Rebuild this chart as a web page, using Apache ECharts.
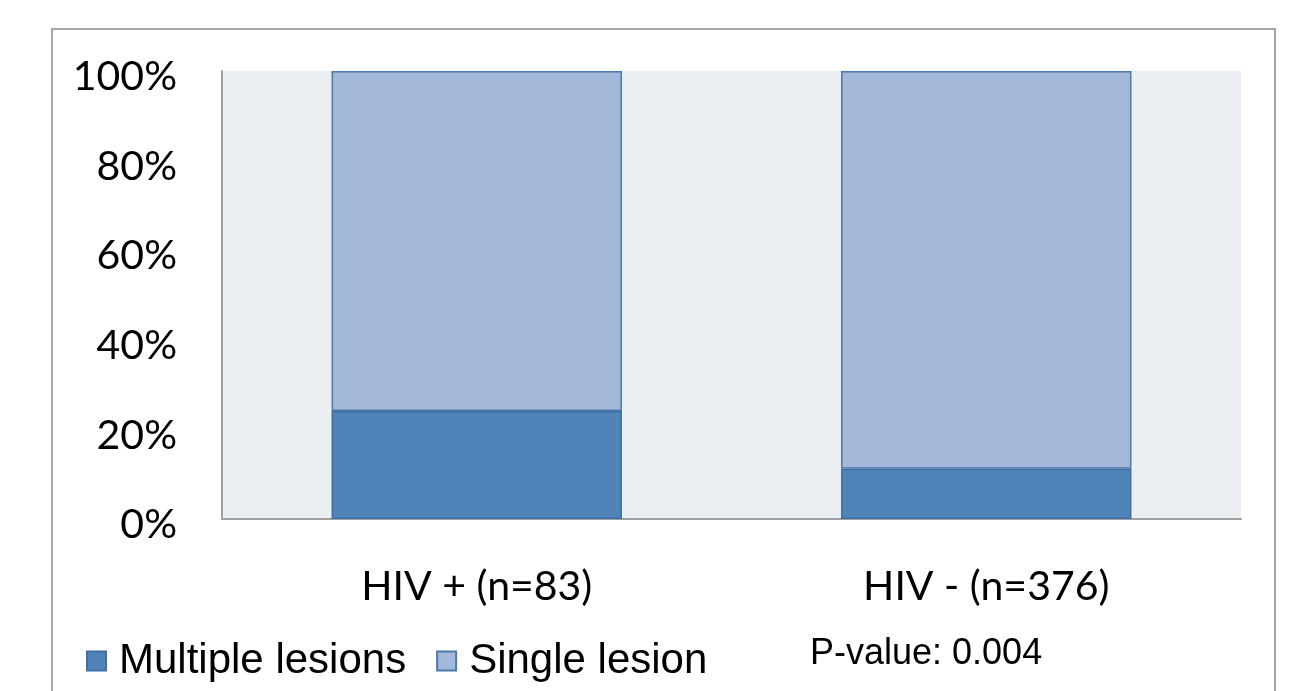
<!DOCTYPE html>
<html>
<head>
<meta charset="utf-8">
<script src="https://cdn.jsdelivr.net/npm/echarts@6/dist/echarts.min.js"></script>
<style>
  html, body { margin: 0; padding: 0; background: #fff; }
  #chart { width: 1303px; height: 691px; }
</style>
</head>
<body>
<div id="chart"></div>
<script>
// data
const categories = ["HIV + (n=83)", "HIV - (n=376)"];
const multipleLesions = [24.1, 11.2];
const singleLesion = [75.9, 88.8];
const yTicks = [0, 20, 40, 60, 80, 100];
const pValueText = "P-value: 0.004";

const myChart = echarts.init(document.getElementById("chart"));

const option = {
  backgroundColor: "#ffffff",
  animation: false,
  grid: {
    left: 222,
    top: 71,
    right: 62,
    bottom: 172,
    show: true,
    backgroundColor: "#EBEEF3",
    borderWidth: 0
  },
  legend: {
    left: 81,
    top: 635,
    itemWidth: 19,
    itemHeight: 19,
    itemGap: 30,
    icon: "rect",
    textStyle: {
      fontFamily: "Liberation Sans",
      fontSize: 42,
      color: "#000",
      padding: [0, 0, 0, 8]
    },
    data: ["Multiple lesions", "Single lesion"]
  },
  xAxis: {
    type: "category",
    data: categories,
    axisLine: { show: true, lineStyle: { color: "#A0A0A0", width: 2 } },
    axisTick: { show: false },
    axisLabel: {
      margin: 47,
      fontFamily: "Lato",
      fontSize: 41,
      color: "#000"
    }
  },
  yAxis: {
    type: "value",
    min: yTicks[0],
    max: yTicks[yTicks.length - 1],
    interval: 20,
    axisLine: { show: true, lineStyle: { color: "#A0A0A0", width: 2 } },
    axisTick: { show: false },
    splitLine: { show: false },
    axisLabel: {
      margin: 45,
      fontFamily: "Lato",
      fontSize: 41,
      color: "#000",
      verticalAlign: "top",
      lineHeight: 12,
      formatter: "{value}%"
    }
  },
  series: [
    {
      name: "Multiple lesions",
      type: "bar",
      stack: "total",
      data: multipleLesions,
      barWidth: "57%",
      itemStyle: { color: "#5083B7", borderColor: "#3F6FA3", borderWidth: 1.5 }
    },
    {
      name: "Single lesion",
      type: "bar",
      stack: "total",
      data: singleLesion,
      barWidth: "57%",
      itemStyle: { color: "#A4B8D9", borderColor: "#4A79AD", borderWidth: 1.5 }
    }
  ],
  graphic: [
    {
      type: "rect",
      silent: true,
      shape: { x: 52, y: 29, width: 1223, height: 720 },
      style: { fill: "none", stroke: "#A6A6A6", lineWidth: 2 }
    },
    {
      type: "text",
      left: 810,
      top: 636,
      style: {
        text: pValueText,
        font: "36px 'Liberation Sans'",
        fill: "#000"
      }
    }
  ]
};

myChart.setOption(option);
window.addEventListener("resize", function () {
  myChart.resize();
});
</script>
</body>
</html>
